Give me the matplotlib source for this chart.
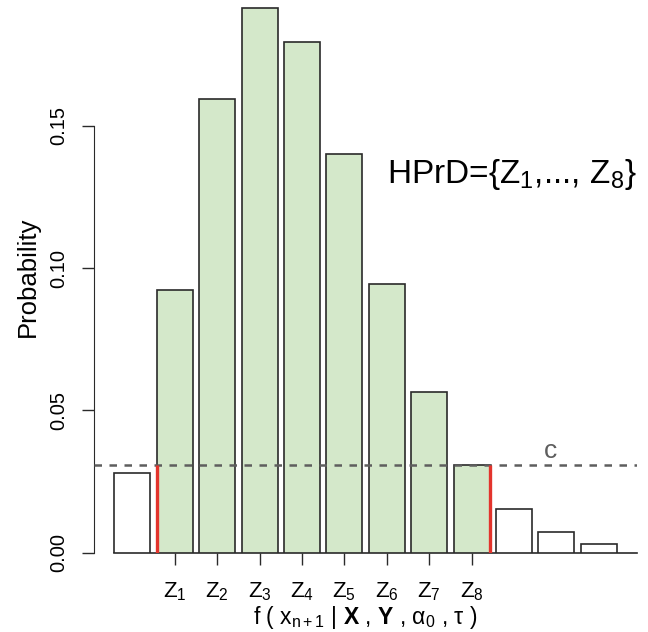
import numpy as np
import matplotlib
matplotlib.use('Agg')
import matplotlib.pyplot as plt

plt.rcParams['font.family'] = ['Liberation Sans', 'DejaVu Sans']
plt.rcParams['mathtext.fontset'] = 'custom'
plt.rcParams['mathtext.rm'] = 'Liberation Sans'
plt.rcParams['mathtext.it'] = 'Liberation Sans:italic'
plt.rcParams['mathtext.bf'] = 'Liberation Sans:bold'

# probabilites
probs = [0.0279, 0.0923, 0.1594, 0.1914, 0.1793, 0.1401, 0.0944, 0.0565,
         0.0308, 0.0154, 0.0072, 0.0031]
in_hprd = [False, True, True, True, True, True, True, True, True, False, False, False]
c_level = 0.0308
zlabels = ['Z$_%d$' % i for i in range(1, 9)]
yticks = [0.00, 0.05, 0.10, 0.15]

green = '#d4e8ca'
red = '#e3342c'
grey = '#5e5e5e'

fig = plt.figure(figsize=(6.48, 6.32), dpi=100)
ax = fig.add_axes([94/648, (632-552.7)/632, (637-94)/648, 552.7/632])

x = np.arange(len(probs))
w = 0.85
cols = [green if h else 'white' for h in in_hprd]
ax.bar(x, probs, width=w, color=cols, edgecolor='#2a2a2a', linewidth=1.2, zorder=2)

# seuil c
ax.axhline(c_level, color=grey, lw=1.8, ls=(0, (3.0, 3.0)), zorder=3)
ax.text(9.85, 0.0333, 'c', color=grey, fontsize=19, ha='center', va='baseline')

# bornes de la HPrD (de 0 jusqu'a c)
first = x[1] - w/2
last = x[8] + w/2
ax.plot([first, first], [0, c_level], color=red, lw=2.4, zorder=4, solid_capstyle='butt')
ax.plot([last, last], [0, c_level], color=red, lw=2.4, zorder=4, solid_capstyle='butt')

ax.text(11.90, 0.1299, 'HPrD={Z$_1$,..., Z$_8$}', fontsize=24, ha='right', va='baseline')

ax.set_xlim(-0.903, 11.90)
ax.set_ylim(0, 0.1942)

# ligne de base
ax.plot([x[0] - w/2, 11.90], [0, 0], color='#2a2a2a', lw=1.2, clip_on=False, zorder=1)

for s in ['top', 'right', 'bottom']:
    ax.spines[s].set_visible(False)
ax.spines['left'].set_bounds(0, 0.15)
ax.spines['left'].set_color('#2a2a2a')

ax.set_yticks(yticks)
ax.set_yticklabels(['%.2f' % v for v in yticks], rotation=90, va='center', fontsize=14.5)
ax.set_xticks(x[1:9])
ax.set_xticklabels(zlabels, fontsize=16)
ax.tick_params(axis='both', length=8.6, width=1, color='#2a2a2a', direction='out')
ax.tick_params(axis='y', pad=10)
ax.tick_params(axis='x', pad=11)

ax.set_ylabel('Probability', fontsize=18.5, labelpad=7)
ax.set_xlabel('f ( x$_{\\mathrm{n+1}}$ | $\\mathbf{X}$ , $\\mathbf{Y}$ , α$_0$ , τ )', fontsize=16.5, labelpad=1)

plt.savefig('out.png', dpi=100)
